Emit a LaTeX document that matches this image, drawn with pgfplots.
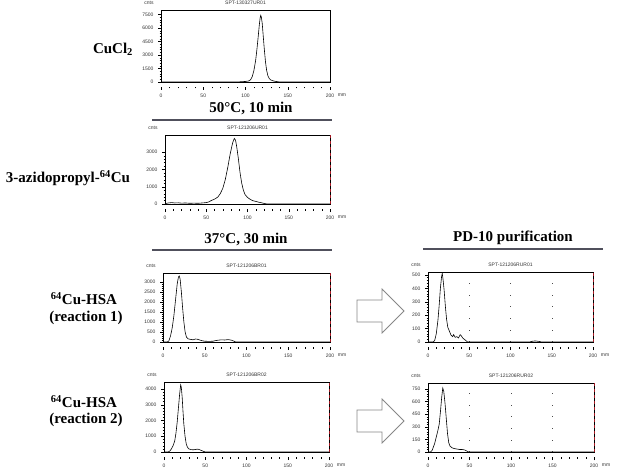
\documentclass[border=0pt]{standalone}
\usepackage{fontspec}
\setmainfont{Liberation Serif}
\setsansfont{Liberation Sans}
\usepackage{pgfplots}
\pgfplotsset{compat=1.18}

\definecolor{rulec}{RGB}{80,80,92}
\definecolor{reddash}{RGB}{165,25,35}
\definecolor{arrowgray}{RGB}{135,135,135}

\newcommand{\tickfont}{\fontsize{5}{5.5}\selectfont\sffamily}
\newcommand{\labfont}{\fontsize{15}{18}\selectfont\bfseries}

\pgfplotsset{
 chrom/.style={
  scale only axis, clip=false,
  xmin=0, xmax=200, ymin=0,
  xtick={0,50,100,150,200},
  minor x tick num=4, minor y tick num=4,
  tickpos=left, tick align=outside,
  major tick length=3pt, minor tick length=1.5pt,
  x tick style={yshift=-5pt},
  xticklabel shift=5pt,
  yticklabel shift=1pt,
  every tick/.append style={line width=0.3pt, black},
  ticklabel style={font=\tickfont, text=black!80},
  /pgf/number format/assume math mode=true,
  /pgf/number format/1000 sep={},
  axis line style={line width=0.6pt},
  cycle list={{black, line width=0.6pt, mark=none}},
  every axis plot post/.append style={black, line width=0.6pt, mark=none},
 },
 reddash/.style={extra x ticks={200}, extra x tick labels={},
   extra x tick style={grid=major, major grid style={draw=reddash, dashed, line width=0.8pt}}},
 dotgrid/.style={xmajorgrids, major grid style={draw=black!70, line width=0.5pt, dash pattern=on 0.7pt off 11pt}},
}

\newcommand{\deco}[1]{%
  \node[font=\tickfont, text=black!80] at (rel axis cs:0.5,1) [yshift=7pt] {#1};
  \node[font=\tickfont, text=black!80] at (rel axis cs:0,1) [xshift=-12pt, yshift=7pt] {cnts};
  \node[font=\tickfont, text=black!80] at (rel axis cs:1,0) [xshift=12pt, yshift=-13pt] {mm};
}

\begin{document}
\begin{tikzpicture}[x=1pt,y=1pt]
\useasboundingbox (0,0) rectangle (619,-476);

% ---------- left labels ----------
\node[font=\labfont] at (113,-49) {CuCl\textsubscript{2}};
\node[font=\labfont] at (68,-178) {3-azidopropyl-\textsuperscript{64}Cu};
\node[font=\labfont] at (84,-299) {\textsuperscript{64}Cu-HSA};
\node[font=\labfont] at (86,-318) {(reaction 1)};
\node[font=\labfont] at (84,-402) {\textsuperscript{64}Cu-HSA};
\node[font=\labfont] at (86,-420) {(reaction 2)};

% ---------- condition headers ----------
\node[font=\labfont] at (251,-108) {50\textdegree C, 10 min};
\draw[rulec, line width=2pt] (152,-120) -- (332,-120);
\node[font=\labfont] at (246,-239) {37\textdegree C, 30 min};
\draw[rulec, line width=2pt] (152,-250) -- (332,-250);
\node[font=\labfont] at (513,-238) {PD-10 purification};
\draw[rulec, line width=2pt] (423,-249) -- (603,-249);

% ---------- arrows ----------
\draw[arrowgray, line width=0.8pt, fill=white] (357,-300) -- (382,-300) -- (382,-289) -- (404,-311) -- (382,-333) -- (382,-322) -- (357,-322) -- cycle;
\draw[arrowgray, line width=0.8pt, fill=white] (357,-410) -- (382,-410) -- (382,-399) -- (404,-421) -- (382,-443) -- (382,-432) -- (357,-432) -- cycle;

% ---------- panel 1: CuCl2 ----------
\begin{axis}[chrom, at={(161pt,-82pt)}, anchor=south west,
  width=169pt, height=72pt, ymax=8000, ytick={0,1500,3000,4500,6000,7500}]
\addplot coordinates {(0,0) (90,0) (93,20) (96,40) (100,60) (104,120) (106,250) (108,600) (110,1300)
 (112,2400) (113.5,3600) (115,5000) (116.3,6300) (117.3,7100) (118,7400) (118.8,7200) (119.8,6500)
 (121,5100) (122.3,3600) (123.7,2200) (125,1300) (126.5,700) (128,400) (130,220) (133,120) (136,60)
 (139,20) (142,0) (200,0)};
\deco{SPT-130327UR01}
\end{axis}

% ---------- panel 2: 3-azidopropyl-64Cu ----------
\begin{axis}[chrom, reddash, at={(165pt,-204pt)}, anchor=south west,
  width=165pt, height=69pt, ymax=4000, ytick={0,1000,2000,3000}]
\addplot coordinates {(0,20) (4,60) (8,80) (12,60) (16,70) (20,50) (25,60) (30,40) (35,50) (40,40)
 (45,60) (50,80) (53,120) (56,200) (60,280) (64,400) (67,600) (70,900) (73,1400) (76,2100) (79,2900)
 (82,3550) (84,3800) (85.5,3700) (87,3300) (89,2600) (91,1800) (93,1200) (95,800) (97,550) (100,380)
 (103,280) (106,200) (110,150) (114,100) (118,60) (121,20) (125,0) (200,0)};
\deco{SPT-121206UR01}
\end{axis}

% ---------- panel 3: 64Cu-HSA reaction 1 ----------
\begin{axis}[chrom, reddash, at={(163pt,-342pt)}, anchor=south west,
  width=167pt, height=69pt, ymax=3450, ytick={0,500,1000,1500,2000,2500,3000}]
\addplot coordinates {(0,0) (5,0) (7,50) (9,300) (11,700) (13,1300) (15,2100) (17,2900) (18.5,3250)
 (19.5,3300) (20.5,3150) (22,2500) (23.5,1700) (25,1000) (26.5,500) (28,250) (30,160) (33,130)
 (36,110) (39,150) (41,140) (44,100) (47,60) (50,40) (55,30) (60,40) (63,70) (66,90) (70,110)
 (74,100) (78,120) (82,90) (85,40) (87,0) (200,0)};
\deco{SPT-121206BR01}
\end{axis}

% ---------- panel 4: PD-10 reaction 1 ----------
\begin{axis}[chrom, reddash, dotgrid, at={(428pt,-342pt)}, anchor=south west,
  width=165pt, height=70pt, ymax=522, ytick={0,100,200,300,400,500}]
\addplot coordinates {(0,0) (6,0) (8,10) (10,60) (12,160) (13.5,270) (15,400) (16.5,490) (17.3,510)
 (18,480) (19.5,390) (21,270) (22.5,170) (24,110) (26,80) (28,50) (30,40) (31,55) (33,35) (35,40)
 (37,30) (39,55) (40.5,45) (42,30) (44,20) (46,10) (48,0) (123,0) (126,5) (130,8) (134,5) (138,0)
 (200,0)};
\deco{SPT-121206RUR01}
\end{axis}

% ---------- panel 5: 64Cu-HSA reaction 2 ----------
\begin{axis}[chrom, reddash, at={(164pt,-452pt)}, anchor=south west,
  width=165pt, height=70pt, ymax=4440, ytick={0,1000,2000,3000,4000}]
\addplot coordinates {(0,0) (5,0) (7,60) (9,200) (11,400) (13,700) (14.5,1200) (16,1900) (17.5,2800)
 (19,3700) (20.2,4250) (21,4100) (22,3500) (23,2600) (24,1800) (25.5,1000) (27,500) (28.5,300)
 (30,200) (33,150) (36,140) (39,170) (41,180) (43,150) (45,100) (47,60) (49,20) (50,0) (200,0)};
\deco{SPT-121206BR02}
\end{axis}

% ---------- panel 6: PD-10 reaction 2 ----------
\begin{axis}[chrom, reddash, dotgrid, at={(428pt,-452pt)}, anchor=south west,
  width=166pt, height=69pt, ymax=820, ytick={0,150,300,450,600,750}]
\addplot coordinates {(0,0) (3,0) (5,20) (8,100) (10,180) (12,260) (13.5,330) (15,480) (16.5,650)
 (17.8,760) (19,720) (20.5,580) (22,400) (23.5,220) (25,110) (26.5,70) (29,50) (32,40) (35,35)
 (38,30) (41,30) (44,25) (47,10) (49,0) (200,0)};
\deco{SPT-121206RUR02}
\end{axis}
\end{tikzpicture}
\end{document}
